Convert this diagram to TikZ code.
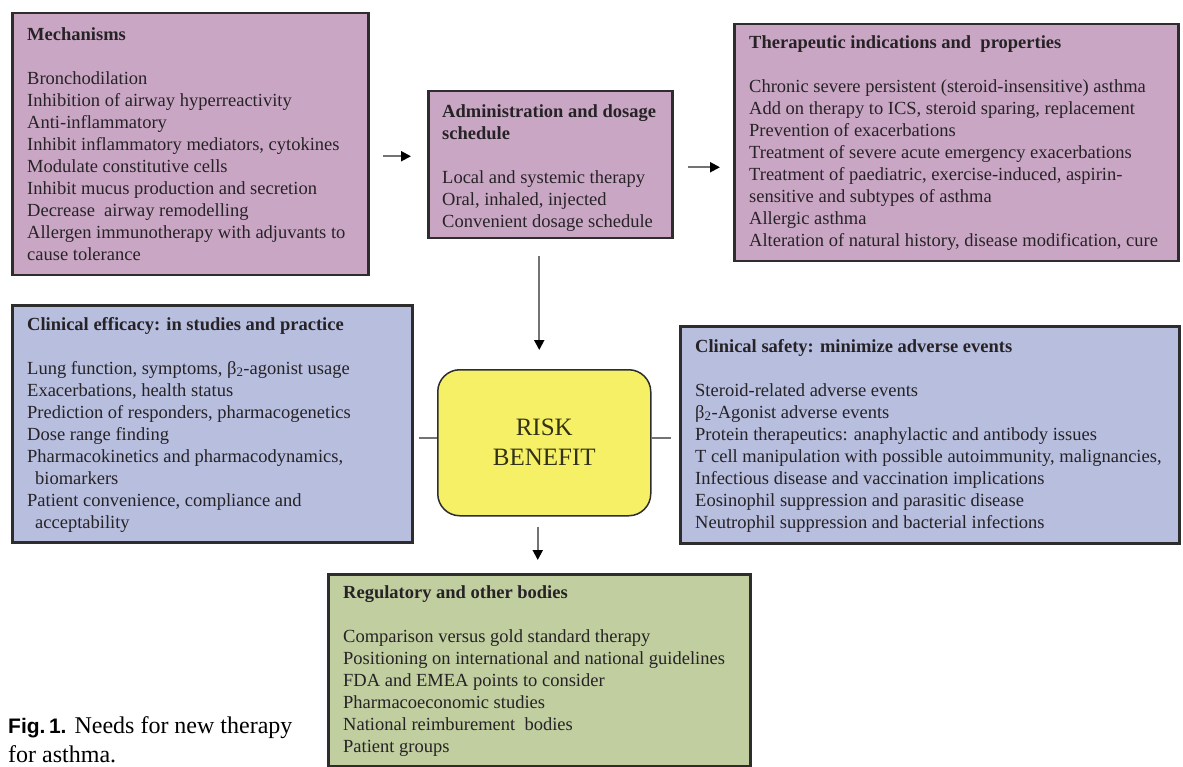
\documentclass[tikz,border=0pt]{standalone}
\usepackage{fontspec}
\setmainfont{Liberation Serif}
\newfontfamily\capsans{Liberation Sans}
\usetikzlibrary{arrows.meta}
\definecolor{mauve}{RGB}{201,167,196}
\definecolor{lblue}{RGB}{183,190,222}
\definecolor{lgreen}{RGB}{192,206,160}
\definecolor{ryellow}{RGB}{246,240,102}
\definecolor{bord}{RGB}{45,45,45}
\definecolor{txtc}{RGB}{38,34,38}
\definecolor{rbtxt}{RGB}{50,50,25}
\definecolor{conn}{RGB}{115,115,115}
\tikzset{
  boxbase/.style={draw=bord, line width=2.5pt, inner sep=0pt, anchor=north west},
  pinkbox/.style={boxbase, fill=mauve},
  bluebox/.style={boxbase, fill=lblue},
  greenbox/.style={boxbase, fill=lgreen},
  boxtext/.style={anchor=north west, inner sep=0pt, align=left, text=txtc,
    font=\fontsize{18.5}{22}\selectfont},
  rbbox/.style={draw=bord, line width=1.5pt, fill=ryellow, rounded corners=22pt,
    minimum width=213pt, minimum height=146pt, align=center, text=rbtxt,
    font=\fontsize{25}{30}\selectfont, anchor=north west},
  arr/.style={draw=conn, line width=2pt, -{Triangle[length=10pt,width=10pt,color=black]}},
  plainline/.style={draw=conn, line width=2pt},
}
\newcommand{\fs}{\rule{0pt}{14pt}}
\begin{document}
\begin{tikzpicture}[x=1pt,y=-1pt]
\useasboundingbox (0,0) rectangle (1183,767);

% boxes
\node[pinkbox, minimum width=356pt, minimum height=262pt] (b1) at (11,12) {};
\node[pinkbox, minimum width=244pt, minimum height=147pt] (b2) at (427,90) {};
\node[pinkbox, minimum width=444pt, minimum height=237pt] (b3) at (733,23) {};
\node[bluebox, minimum width=400pt, minimum height=237pt] (b4) at (11,304) {};
\node[bluebox, minimum width=499pt, minimum height=217pt] (b5) at (679,325) {};
\node[greenbox, minimum width=422pt, minimum height=192pt] (b6) at (327,573) {};
\node[rbbox] (rb) at (437,369) {RISK\\BENEFIT};

% texts
\node[boxtext] (t1) at (27,26) {\fs\textbf{Mechanisms}\\[22pt]
Bronchodilation\\
Inhibition of airway hyperreactivity\\
Anti-inflammatory\\
Inhibit inflammatory mediators, cytokines\\
Modulate constitutive cells\\
Inhibit mucus production and secretion\\
Decrease\ \ airway remodelling\\
Allergen immunotherapy with adjuvants to\\
cause tolerance};

\node[boxtext] (t2) at (442,103) {\fs\textbf{Administration and dosage}\\
\textbf{schedule}\\[22pt]
Local and systemic therapy\\
Oral, inhaled, injected\\
Convenient dosage schedule};

\node[boxtext] (t3) at (749,34) {\fs\textbf{Therapeutic indications and\ \ properties}\\[22pt]
Chronic severe persistent (steroid-insensitive) asthma\\
Add on therapy to ICS, steroid sparing, replacement\\
Prevention of exacerbations\\
Treatment of severe acute emergency exacerbations\\
Treatment of paediatric, exercise-induced, aspirin-\\
sensitive and subtypes of asthma\\
Allergic asthma\\
Alteration of natural history, disease modification, cure};

\node[boxtext] (t4) at (27,316) {\fs\textbf{Clinical efficacy: in studies and practice}\\[22pt]
Lung function, symptoms, β\textsubscript{2}-agonist usage\\
Exacerbations, health status\\
Prediction of responders, pharmacogenetics\\
Dose range finding\\
Pharmacokinetics and pharmacodynamics,\\
\hspace*{8pt}biomarkers\\
Patient convenience, compliance and\\
\hspace*{8pt}acceptability};

\node[boxtext] (t5) at (695,338) {\fs\textbf{Clinical safety: minimize adverse events}\\[22pt]
Steroid-related adverse events\\
β\textsubscript{2}-Agonist adverse events\\
Protein therapeutics: anaphylactic and antibody issues\\
T cell manipulation with possible autoimmunity, malignancies,\\
Infectious disease and vaccination implications\\
Eosinophil suppression and parasitic disease\\
Neutrophil suppression and bacterial infections};

\node[boxtext] (t6) at (343,584) {\fs\textbf{Regulatory and other bodies}\\[22pt]
Comparison versus gold standard therapy\\
Positioning on international and national guidelines\\
FDA and EMEA points to consider\\
Pharmacoeconomic studies\\
National reimburement\ \ bodies\\
Patient groups};

% caption
\node[anchor=north west, inner sep=0pt, align=left, font=\fontsize{24}{29}\selectfont] (cap) at (8,715)
  {\rule{0pt}{18pt}{\capsans\bfseries\fontsize{21}{29}\selectfont Fig.\,1.} Needs for new therapy\\for asthma.};

% connectors
\draw[arr, shorten <=13pt, shorten >=16pt] ([yshift=-12pt]b1.east) -- ([yshift=-12pt]b1.east -| b2.west);
\draw[arr, shorten <=14pt, shorten >=13pt] ([yshift=-2.5pt]b2.east) -- ([yshift=-2.5pt]b2.east -| b3.west);
\draw[arr, shorten <=17pt, shorten >=19pt] ([xshift=-11pt]b2.south) -- ([xshift=-11pt]b2.south |- rb.north);
\draw[arr, shorten <=10pt, shorten >=13pt] ([xshift=-6.5pt]rb.south) -- ([xshift=-6.5pt]rb.south |- b6.north);
\draw[plainline, shorten >=5pt] ([yshift=5pt]rb.west) -- ([yshift=5pt]rb.west -| b4.east);
\draw[plainline, shorten >=8pt] ([yshift=5pt]rb.east) -- ([yshift=5pt]rb.east -| b5.west);
\end{tikzpicture}
\end{document}
